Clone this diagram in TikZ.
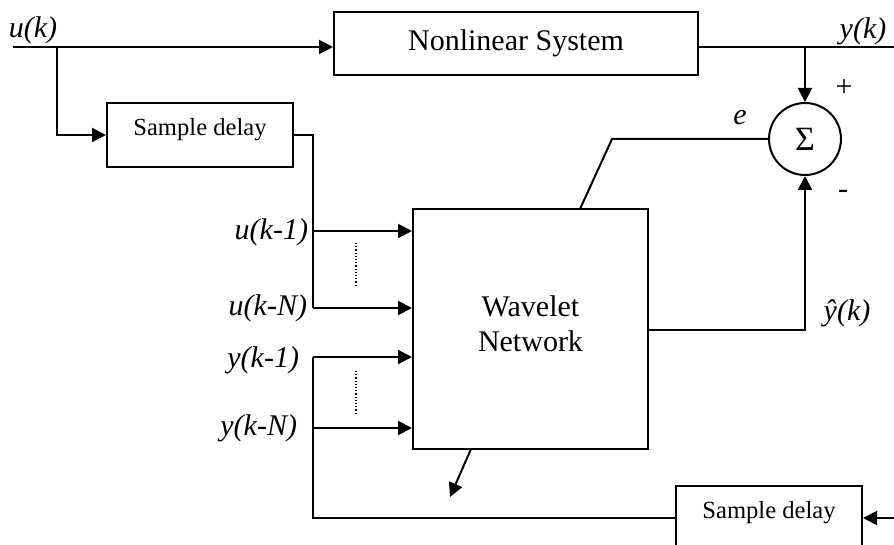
\documentclass[tikz,border=0pt]{standalone}
\usepackage{fontspec}
\setmainfont{Liberation Serif}
\usetikzlibrary{arrows.meta, positioning, calc}

\begin{document}
\begin{tikzpicture}[
        x=0.5pt, y=-0.5pt, line width=1pt,
        block/.style={draw, rectangle, align=center, font=\fontsize{15}{17.5}\selectfont},
        delaybox/.style={draw, rectangle, minimum width=93pt, minimum height=32pt, text depth=8pt, font=\fontsize{12.3}{14}\selectfont},
        sumnode/.style={draw, circle, minimum size=36pt, inner sep=0pt, font=\fontsize{17}{19}\selectfont},
        sig/.style={inner sep=0pt, font=\fontsize{15}{17}\selectfont\itshape},
        sign/.style={inner sep=0pt, font=\fontsize{15}{17}\selectfont},
        arrow/.style={-{Triangle[length=7pt, width=7pt]}},
        ellip/.style={line width=0.6pt, densely dotted}
    ]
    \useasboundingbox (0,0) rectangle (894,545);
    \clip (0,0) rectangle (894,545);

        \node[block, minimum width=182pt, minimum height=31.5pt] (plant) at (516,43.5) {Nonlinear System};
        \node[delaybox] (delayu) at (200,135) {Sample delay};
        \node[block, minimum width=117.5pt, minimum height=120pt, text depth=5.5pt] (wnet) at (530.5,329) {Wavelet\\Network};
        \node[sumnode] (sum) at (805,139) {Σ};
        \node[delaybox] (delayy) at (769,518) {Sample delay};

    % plant input and output
        \coordinate (uin) at (13,47);
        \coordinate (ubr) at (57,47);
        \coordinate (yout) at (894,47);
        \coordinate (ybr) at (805,47);
        \draw[arrow] (uin) -- (uin -| plant.west);
        \draw (yout -| plant.east) -- (yout);
        \draw[arrow] (ubr) |- (delayu.west);
        \draw[arrow] (ybr) -- (sum.north);

    % tapped inputs of the network
        \coordinate (u1) at (313,231);
        \coordinate (uN) at (313,308);
        \coordinate (y1) at (313,357);
        \coordinate (yN) at (313,428);
        \coordinate (yfb) at (894,518);
        \draw (delayu.east) -| (uN);
        \draw (delayy.west) -| (y1);
        \draw[arrow] (yfb) -- (delayy.east);
        \foreach \c in {u1,uN,y1,yN}
            \draw[arrow] (\c) -- (\c -| wnet.west);
        \draw[ellip] (356,243) -- (356,287);
        \draw[ellip] (356,371) -- (356,413);

        \node[sig, anchor=east] (lu1) at (309,232) {u(k-1)};
        \node[sig, anchor=east] (luN) at (308,308) {u(k-N)};
        \node[sig, anchor=east] (ly1) at (300,360) {y(k-1)};
        \node[sig, anchor=east] (lyN) at (298,428) {y(k-N)};

    % error and estimate
        \coordinate (ekink) at (612,139);
        \coordinate (etop) at (580,209);
        \coordinate (yhat) at (805,330);
        \coordinate (abase) at (471,449);
        \coordinate (atip) at (450,497);
        \draw (sum.west) -- (ekink) -- (etop);
        \draw[arrow] (yhat -| wnet.east) -- (yhat) -- (sum.south);
        \draw[arrow] (abase) -- (atip);

        \node[sig] (lu) at (33,30) {u(k)};
        \node[sig] (ly) at (863,31) {y(k)};
        \node[sig] (le) at (740,118) {e};
        \node[sig] (lyhat) at (847,313) {ŷ(k)};
        \node[sign] (lplus) at (844,88) {+};
        \node[sign] (lminus) at (843,194) {-};
\end{tikzpicture}
\end{document}
